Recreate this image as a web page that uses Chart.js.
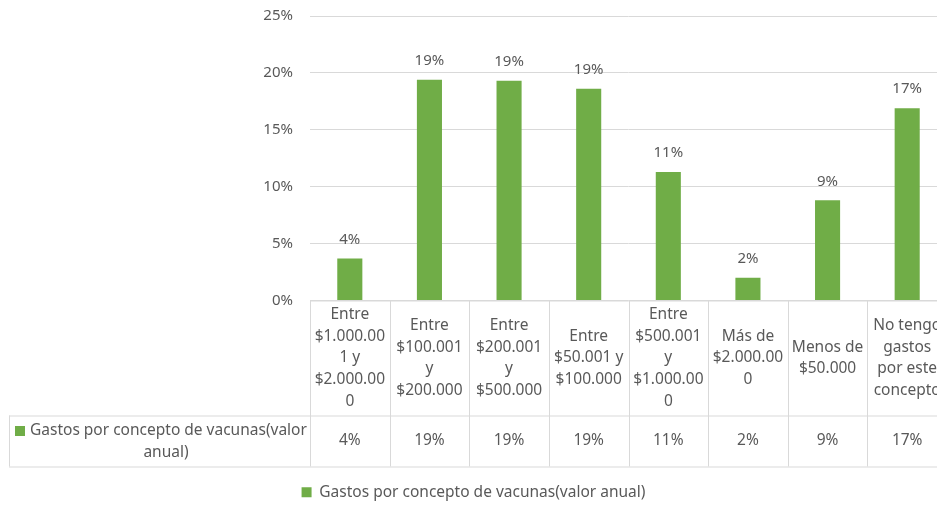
<!DOCTYPE html>
<html><head><meta charset="utf-8">
<script src="https://cdn.jsdelivr.net/npm/chart.js@4.4.0/dist/chart.umd.min.js"></script>
<style>
html,body{margin:0;padding:0;background:#fff;overflow:hidden;width:937px;height:506px}
#wrap{position:absolute;left:0;top:0;width:950px;height:506px}
</style>
</head><body><div id="wrap"><canvas id="c"></canvas></div>
<script>
const categories = [
  ["Entre","$1.000.00","1 y","$2.000.00","0"],
  ["Entre","$100.001","y","$200.000"],
  ["Entre","$200.001","y","$500.000"],
  ["Entre","$50.001 y","$100.000"],
  ["Entre","$500.001","y","$1.000.00","0"],
  ["Más de","$2.000.00","0"],
  ["Menos de","$50.000"],
  ["No tengo","gastos","por este","concepto"]
];
const values = [3.7, 19.4, 19.3, 18.6, 11.3, 2.0, 8.8, 16.9];
const seriesName = "Gastos por concepto de vacunas(valor anual)";
const seriesNameLines = ["Gastos por concepto de vacunas(valor", "anual)"];
const yMin = 0, yMax = 25, yStep = 5;

const GREEN = '#70AD47', TEXT = '#595959', GRID = '#D9D9D9';
const FONT = "'Noto Sans', sans-serif";
Chart.defaults.font.family = FONT;
Chart.defaults.font.size = 15;
Chart.defaults.color = TEXT;

const pct = v => Math.round(v) + '%';

const dataLabels = {
  id: 'dataLabels',
  afterDatasetsDraw(chart) {
    const ctx = chart.ctx;
    const meta = chart.getDatasetMeta(0);
    ctx.save();
    ctx.font = '15px ' + FONT;
    ctx.fillStyle = TEXT;
    ctx.textAlign = 'center';
    ctx.textBaseline = 'middle';
    meta.data.forEach((bar, i) => {
      ctx.fillText(pct(values[i]), bar.x, bar.y - 19);
    });
    ctx.restore();
  }
};

const dataTable = {
  id: 'dataTable',
  afterDraw(chart) {
    const {ctx, chartArea: a, scales: {x}} = chart;
    const n = categories.length;
    const colW = (a.right - a.left) / n;
    const top = a.bottom, mid = top + 115, bot = top + 166;
    const leftX = 9;
    ctx.save();
    ctx.strokeStyle = GRID;
    ctx.lineWidth = 1;
    const line = (x1, y1, x2, y2) => { ctx.beginPath(); ctx.moveTo(x1, y1); ctx.lineTo(x2, y2); ctx.stroke(); };
    line(a.left, top + 0.5, a.right, top + 0.5);
    line(leftX, mid + 0.5, a.right, mid + 0.5);
    line(leftX, bot + 0.5, a.right, bot + 0.5);
    for (let i = 0; i <= n; i++) {
      const xx = Math.round(a.left + i * colW) + 0.5;
      line(xx, top, xx, bot);
    }
    line(leftX + 0.5, mid, leftX + 0.5, bot);

    ctx.fillStyle = TEXT;
    ctx.font = '15.5px ' + FONT;
    ctx.textAlign = 'center';
    ctx.textBaseline = 'middle';
    const lh = 21.7;
    categories.forEach((lines, i) => {
      const cx = x.getPixelForValue(i);
      const y0 = (top + mid) / 2 - (lines.length - 1) * lh / 2;
      lines.forEach((t, j) => ctx.fillText(t, cx, y0 + j * lh));
      ctx.fillText(pct(values[i]), cx, (mid + bot) / 2);
    });
    // series cell
    const cy = (mid + bot) / 2;
    ctx.fillStyle = GREEN;
    ctx.fillRect(15, cy - 15, 10, 10);
    ctx.fillStyle = TEXT;
    ctx.textAlign = 'left';
    ctx.fillText(seriesNameLines[0], 30, cy - 10);
    ctx.textAlign = 'center';
    ctx.fillText(seriesNameLines[1], 166, cy + 12);
    ctx.restore();
  }
};

new Chart(document.getElementById('c'), {
  type: 'bar',
  data: {
    labels: categories,
    datasets: [{
      label: seriesName,
      data: values,
      backgroundColor: GREEN,
      borderWidth: 0,
      categoryPercentage: 1,
      barPercentage: 0.315
    }]
  },
  options: {
    responsive: true,
    maintainAspectRatio: false,
    animation: false,
    layout: { padding: { top: 16, left: 0, right: 3, bottom: -4 } },
    plugins: {
      legend: {
        position: 'bottom',
        labels: { boxWidth: 10, boxHeight: 10, padding: 10, color: TEXT, font: { size: 15.5 } }
      },
      tooltip: { enabled: false }
    },
    scales: {
      x: {
        ticks: { display: false },
        grid: { display: false },
        border: { display: false },
        afterFit(s) { s.height = 174; s.paddingLeft = 0; s.paddingRight = 0; }
      },
      y: {
        min: yMin, max: yMax,
        ticks: { stepSize: yStep, padding: 17, color: TEXT, callback: v => v + '%' },
        grid: { color: GRID, drawTicks: false },
        border: { display: false },
        afterFit(s) { s.width = 310; s.paddingTop = 0; s.paddingBottom = 0; }
      }
    }
  },
  plugins: [dataLabels, dataTable]
});
</script>
</body></html>
